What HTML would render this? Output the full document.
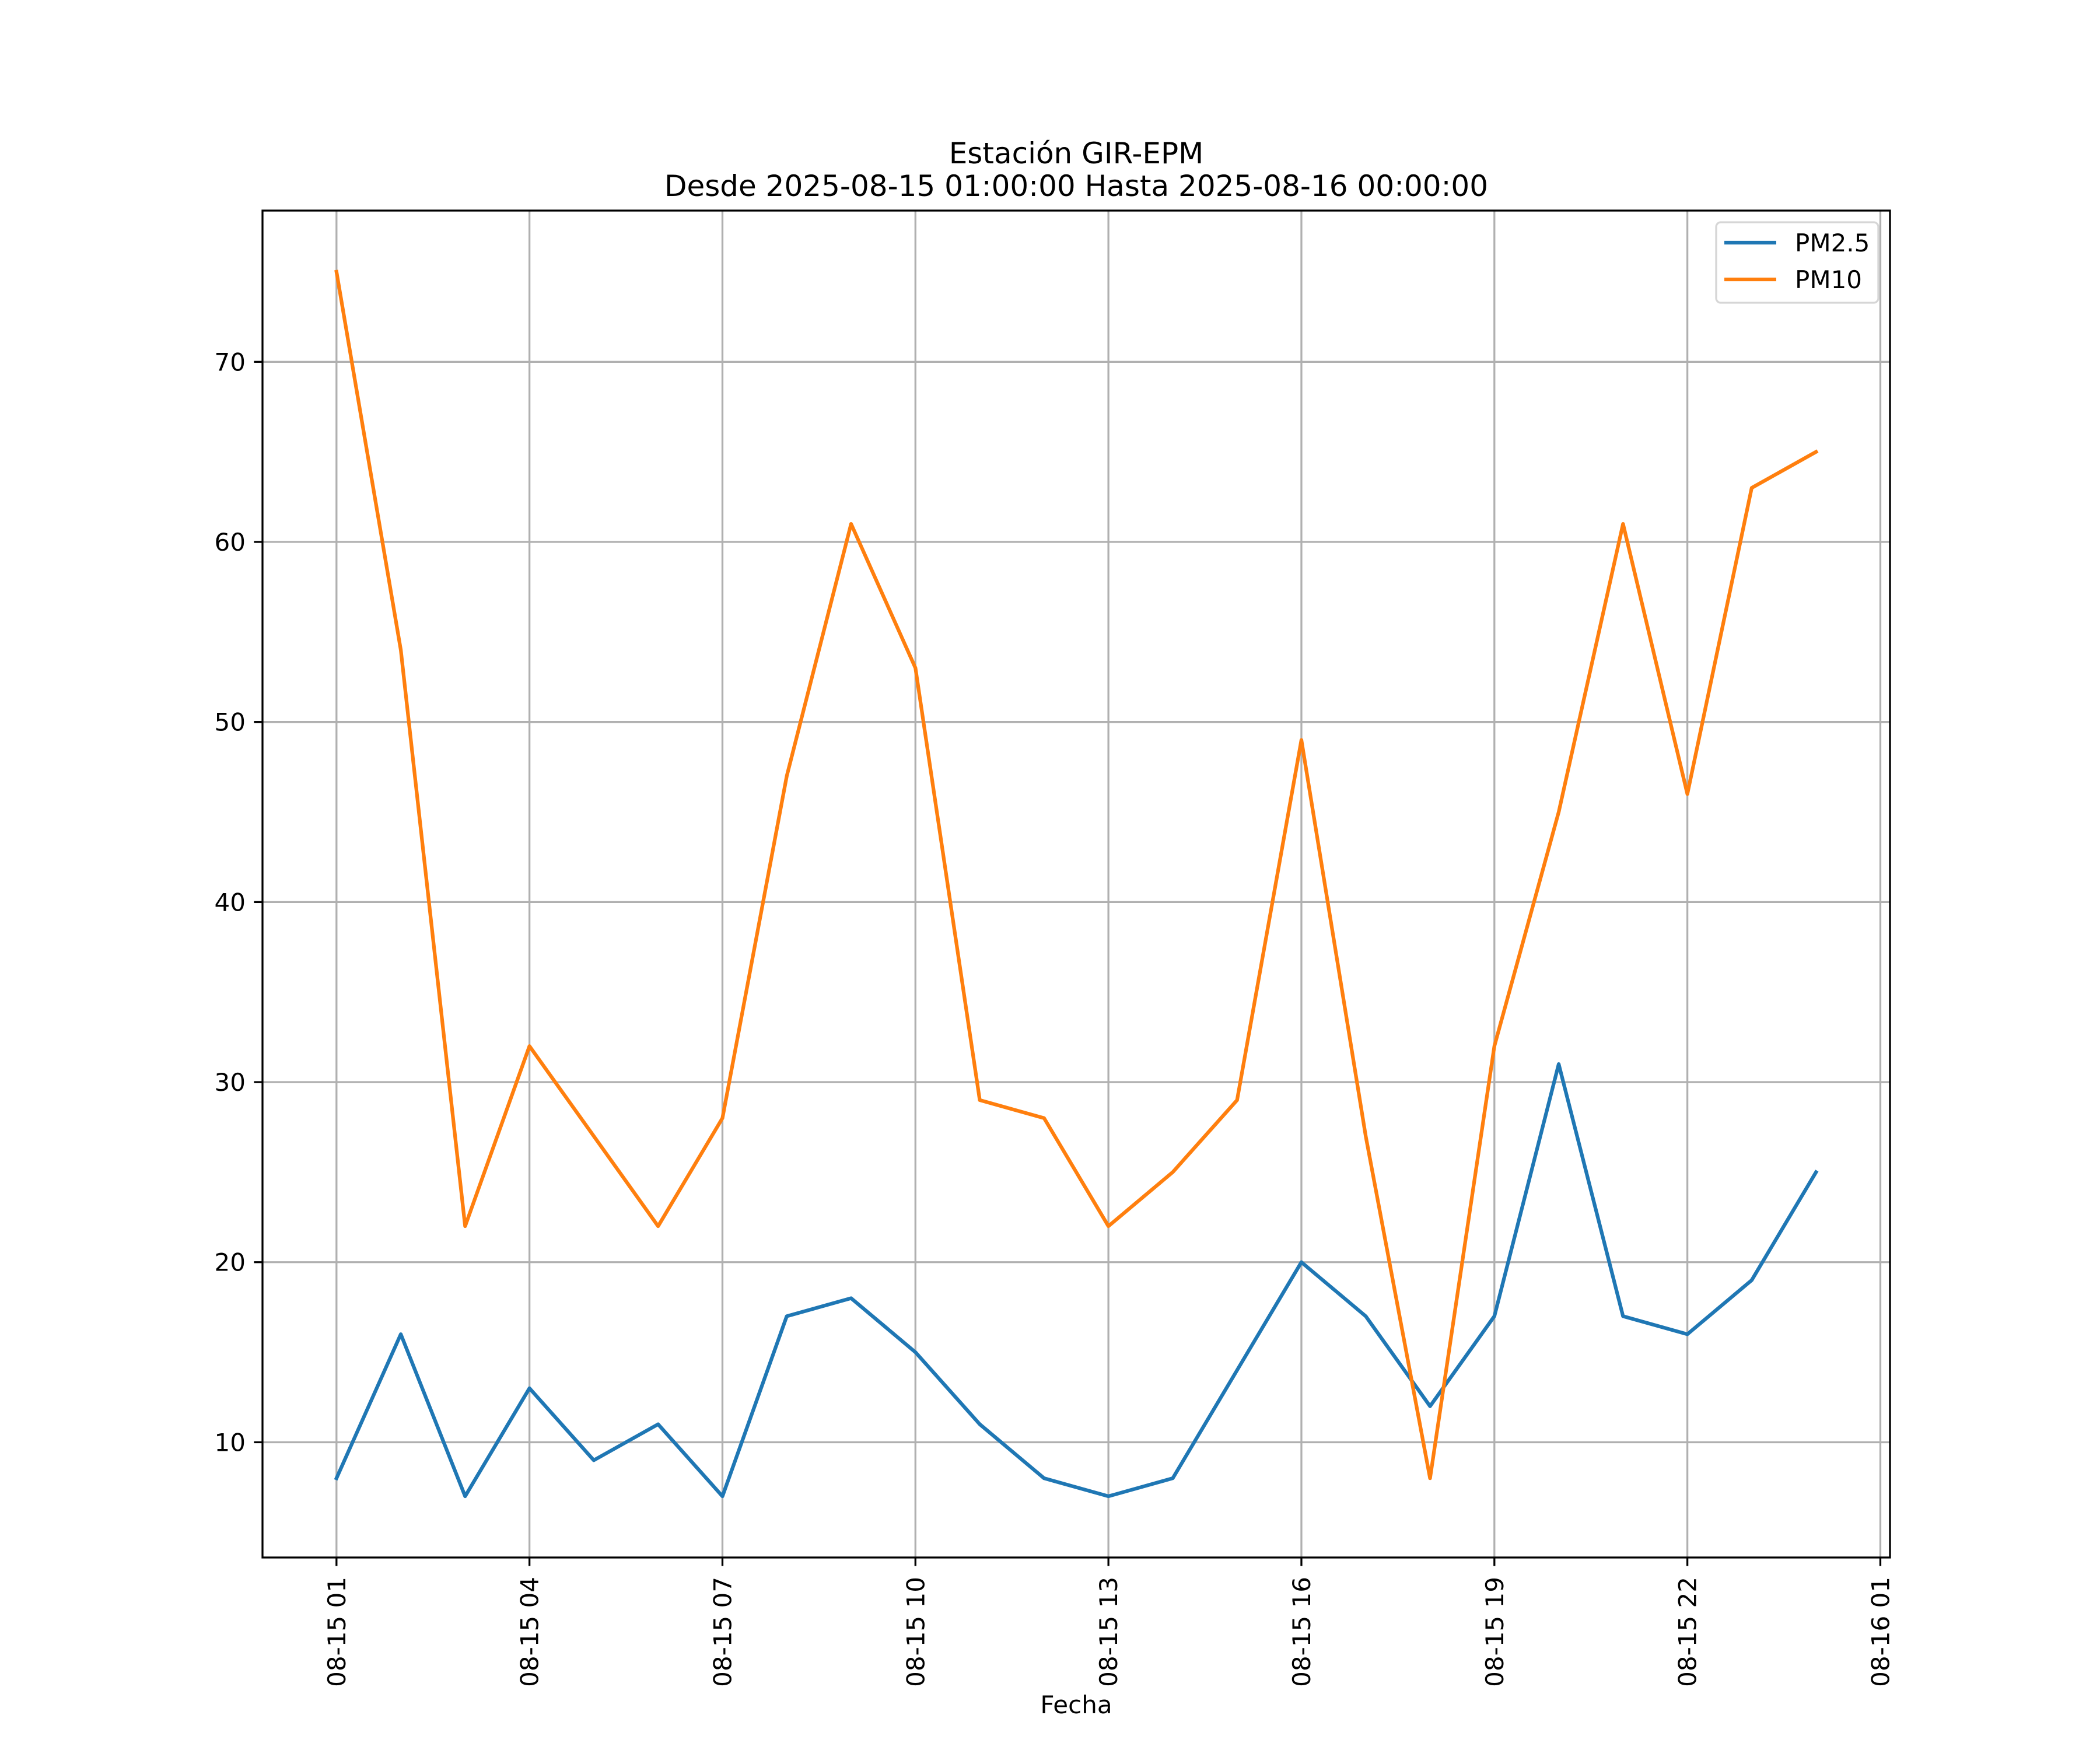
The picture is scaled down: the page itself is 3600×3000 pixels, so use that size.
<!DOCTYPE html>
<html><head><meta charset="utf-8"><style>
html,body{margin:0;padding:0;background:#fff;}
svg{display:block;font-family:"DejaVu Sans","Liberation Sans",sans-serif;}
</style></head><body>
<svg id="chart" width="3600" height="3000" viewBox="0 0 3600 3000" xmlns="http://www.w3.org/2000/svg">
<rect width="3600" height="3000" fill="#fff"/>
<text x="1845" y="280" font-size="50" text-anchor="middle">Estación GIR-EPM</text>
<text x="1845" y="336" font-size="50" text-anchor="middle">Desde 2025-08-15 01:00:00 Hasta 2025-08-16 00:00:00</text>
<g id="grid"></g>
<g id="series"></g>
<rect x="450" y="361" width="2790" height="2309" fill="none" stroke="#000" stroke-width="3.3"/>
<g id="ticks"></g>
<text x="1845" y="2937" font-size="42" text-anchor="middle">Fecha</text>
<g>
<rect x="2942" y="381" width="278" height="138" rx="8" fill="#fff" fill-opacity="0.8" stroke="#d6d6d6" stroke-width="3.3"/>
<line x1="2956" y1="416" x2="3045" y2="416" stroke="#1f77b4" stroke-width="6.25"/>
<text x="3077" y="431" font-size="42">PM2.5</text>
<line x1="2956" y1="479" x2="3045" y2="479" stroke="#ff7f0e" stroke-width="6.25"/>
<text x="3077" y="494" font-size="42">PM10</text>
</g>
</svg>
<script>
const hours = [0,1,2,3,4,5,6,7,8,9,10,11,12,13,14,15,16,17,18,19,20,21,22,23];
const pm25 = [8,16,7,13,9,11,7,17,18,15,11,8,7,8,14,20,17,12,17,31,17,16,19,25];
const pm10 = [75,54,22,32,27,22,28,47,61,53,29,28,22,25,29,49,27,8,32,45,61,46,63,65];
const xTickHours = [0,3,6,9,12,15,18,21,24];
const xTickLabels = ["08-15 01","08-15 04","08-15 07","08-15 10","08-15 13","08-15 16","08-15 19","08-15 22","08-16 01"];
const yTicks = [10,20,30,40,50,60,70];

const L=450,R=3240,T=361,B=2670;
const all=pm25.concat(pm10);
const ymin=Math.min(...all),ymax=Math.max(...all);
const ypad=(ymax-ymin)*0.05, y0=ymin-ypad, y1=ymax+ypad;
const xmin=Math.min(...hours),xmax=Math.max(...hours);
const xpad=(xmax-xmin)*0.05, x0=xmin-xpad, x1=xmax+xpad;
const sx=h=>L+(h-x0)/(x1-x0)*(R-L);
const sy=v=>B-(v-y0)/(y1-y0)*(B-T);
const NS="http://www.w3.org/2000/svg";
function mk(tag,attrs,parent){const e=document.createElementNS(NS,tag);for(const k in attrs)e.setAttribute(k,attrs[k]);parent.appendChild(e);return e;}
const grid=document.getElementById('grid'),ticks=document.getElementById('ticks'),series=document.getElementById('series');
xTickHours.forEach((h,i)=>{
  const x=sx(h);
  const g=mk('line',{x1:x,x2:x,y1:T,y2:B,stroke:'#b0b0b0','stroke-width':3.3},grid);
  
  
  const t=mk('line',{x1:x,x2:x,y1:B,y2:B+14.6,stroke:'#000','stroke-width':3.3},ticks);
  
  
  const tx=mk('text',{x:0,y:0,'font-size':42,'text-anchor':'end',transform:`translate(${x+15},${B+33}) rotate(-90)`},ticks);
  tx.textContent=xTickLabels[i];
  
  
});
yTicks.forEach(v=>{
  const y=sy(v);
  const g=mk('line',{x1:L,x2:R,y1:y,y2:y,stroke:'#b0b0b0','stroke-width':3.3},grid);
  
  
  const t=mk('line',{x1:L-14.6,x2:L,y1:y,y2:y,stroke:'#000','stroke-width':3.3},ticks);
  
  
  const tx=mk('text',{x:L-29,y:y+15,'font-size':42,'text-anchor':'end'},ticks);
  tx.textContent=String(v);
  
  
});
function line(vals,color,name){
  const pts=vals.map((v,i)=>sx(hours[i])+','+sy(v)).join(' ');
  const p=mk('polyline',{points:pts,fill:'none',stroke:color,'stroke-width':6.25,'stroke-linejoin':'round','stroke-linecap':'square'},series);
  
  
}
line(pm25,'#1f77b4','pm25-line');
line(pm10,'#ff7f0e','pm10-line');
</script>
</body></html>
